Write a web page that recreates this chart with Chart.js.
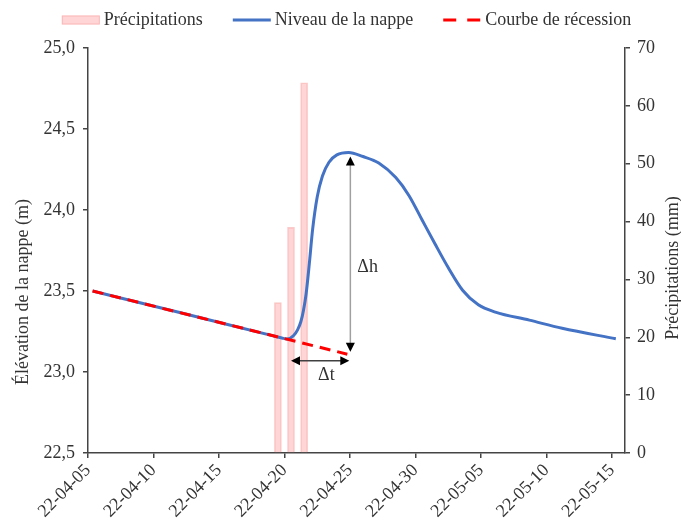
<!DOCTYPE html>
<html>
<head>
<meta charset="utf-8">
<script src="https://cdn.jsdelivr.net/npm/chart.js@4.4.0/dist/chart.umd.min.js"></script>
<style>
  html, body { margin: 0; padding: 0; background: #fff; }
</style>
</head>
<body>
<canvas id="chart" width="681" height="521"></canvas>
<script>
// x values are days counted from 2022-04-05
const tickLabels = ["22-04-05", "22-04-10", "22-04-15", "22-04-20", "22-04-25",
  "22-04-30", "22-05-05", "22-05-10", "22-05-15"];

const rainDays = [14.5, 15.5, 16.5];
const rainValues = [26, 39, 64];

const levelDays = [0.35, 7, 14, 14.8, 15.2, 15.7, 16.0, 16.25, 16.45, 16.65, 16.9,
  17.15, 17.5, 17.9, 18.4, 19.0, 19.9, 21.0, 22.2, 23.5, 24.5, 25.5, 26.5, 27.5,
  28.6, 29.8, 31.1, 33.7, 36.2, 40.3];
const levelValues = [23.5, 23.367, 23.226, 23.21, 23.203, 23.225, 23.26, 23.31,
  23.38, 23.48, 23.67, 23.88, 24.08, 24.21, 24.295, 24.34, 24.355, 24.33, 24.29,
  24.2, 24.09, 23.94, 23.79, 23.645, 23.505, 23.415, 23.37, 23.32, 23.27, 23.205];

const recessionDays = [0.35, 19.8];
const recessionValues = [23.5, 23.11];

const textColor = "#333333";
const axisColor = "#444444";
const serif = "'Liberation Serif', 'Times New Roman', serif";

Chart.defaults.font.family = serif;
Chart.defaults.font.size = 18;
Chart.defaults.color = textColor;

function pairs(xs, ys) {
  return xs.map((x, i) => ({ x: x, y: ys[i] }));
}

// arrows, delta labels, axis titles and legend
const extras = {
  id: "extras",
  afterDatasetsDraw(chart) {
    const ctx = chart.ctx;
    const xs = chart.scales.x;
    const ys = chart.scales.y;

    function head(x, y, dx, dy) {
      const len = 9, half = 4.5;
      const px = -dy, py = dx;
      ctx.beginPath();
      ctx.moveTo(x, y);
      ctx.lineTo(x - dx * len + px * half, y - dy * len + py * half);
      ctx.lineTo(x - dx * len - px * half, y - dy * len - py * half);
      ctx.closePath();
      ctx.fillStyle = "#000";
      ctx.fill();
    }

    ctx.save();
    // delta h
    const hx = xs.getPixelForValue(20.03);
    const hy1 = ys.getPixelForValue(24.33);
    const hy2 = ys.getPixelForValue(23.125);
    ctx.strokeStyle = "#a0a0a0";
    ctx.lineWidth = 1.5;
    ctx.beginPath();
    ctx.moveTo(hx, hy1 + 6);
    ctx.lineTo(hx, hy2 - 6);
    ctx.stroke();
    head(hx, hy1, 0, -1);
    head(hx, hy2, 0, 1);

    // delta t
    const ty = ys.getPixelForValue(23.07);
    const tx1 = xs.getPixelForValue(15.5);
    const tx2 = xs.getPixelForValue(19.95);
    ctx.strokeStyle = "#404040";
    ctx.beginPath();
    ctx.moveTo(tx1 + 6, ty);
    ctx.lineTo(tx2 - 6, ty);
    ctx.stroke();
    head(tx1, ty, -1, 0);
    head(tx2, ty, 1, 0);

    ctx.fillStyle = textColor;
    ctx.font = "18px " + serif;
    ctx.textBaseline = "middle";
    ctx.textAlign = "left";
    ctx.fillText("\u0394h", hx + 7, ys.getPixelForValue(23.648));
    ctx.textAlign = "center";
    ctx.fillText("\u0394t", xs.getPixelForValue(18.2), ys.getPixelForValue(22.98));
    ctx.restore();
  },
  afterDraw(chart) {
    const ctx = chart.ctx;
    ctx.save();
    ctx.fillStyle = textColor;
    ctx.font = "18px " + serif;
    ctx.textAlign = "center";
    ctx.textBaseline = "middle";

    ctx.save();
    ctx.translate(23, 292);
    ctx.rotate(-Math.PI / 2);
    ctx.fillText("\u00c9l\u00e9vation de la nappe (m)", 0, 0);
    ctx.restore();

    ctx.save();
    ctx.translate(673, 268);
    ctx.rotate(-Math.PI / 2);
    ctx.fillText("Pr\u00e9cipitations (mm)", 0, 0);
    ctx.restore();

    // legend
    const sets = chart.data.datasets;
    const symW = 38, gap = 4, between = 30, ly = 20;
    let total = 0;
    sets.forEach((ds, i) => {
      total += symW + gap + ctx.measureText(ds.label).width;
      if (i < sets.length - 1) total += between;
    });
    let x = 346.5 - total / 2;
    ctx.textAlign = "left";
    sets.forEach((ds) => {
      if (ds.type === "bar") {
        ctx.fillStyle = ds.backgroundColor;
        ctx.fillRect(x, ly - 4.5, symW, 9);
        ctx.strokeStyle = ds.borderColor;
        ctx.lineWidth = 1;
        ctx.strokeRect(x + 0.5, ly - 4, symW - 1, 8);
      } else {
        ctx.strokeStyle = ds.borderColor;
        ctx.lineWidth = ds.borderWidth;
        ctx.setLineDash(ds.borderDash ? [13, 11] : []);
        ctx.beginPath();
        ctx.moveTo(x, ly);
        ctx.lineTo(x + symW, ly);
        ctx.stroke();
        ctx.setLineDash([]);
      }
      ctx.fillStyle = textColor;
      ctx.fillText(ds.label, x + symW + gap, ly);
      x += symW + gap + ctx.measureText(ds.label).width + between;
    });
    ctx.restore();
  }
};

new Chart(document.getElementById("chart"), {
  type: "line",
  data: {
    datasets: [
      {
        type: "bar",
        label: "Pr\u00e9cipitations",
        data: pairs(rainDays, rainValues),
        yAxisID: "y1",
        backgroundColor: "rgba(255, 185, 185, 0.6)",
        borderColor: "rgba(245, 160, 160, 0.55)",
        borderWidth: 1,
        barThickness: 7,
        order: 3,
      },
      {
        label: "Niveau de la nappe",
        data: pairs(levelDays, levelValues),
        yAxisID: "y",
        borderColor: "#4472C4",
        borderWidth: 3,
        pointRadius: 0,
        cubicInterpolationMode: "monotone",
        fill: false,
        order: 2,
      },
      {
        label: "Courbe de r\u00e9cession",
        data: pairs(recessionDays, recessionValues),
        yAxisID: "y",
        borderColor: "#FF0000",
        borderWidth: 3,
        borderDash: [11, 7],
        pointRadius: 0,
        fill: false,
        order: 1,
      },
    ],
  },
  options: {
    responsive: false,
    animation: false,
    layout: { padding: { top: 48, left: 0, right: 0, bottom: 0 } },
    plugins: {
      legend: { display: false },
      tooltip: { enabled: false },
    },
    scales: {
      x: {
        type: "linear",
        min: 0,
        max: 41,
        offset: false,
        afterFit: (s) => { s.height = 68; },
        grid: { offset: false, drawOnChartArea: false, tickLength: 5, color: axisColor, lineWidth: 1.5 },
        border: { color: axisColor, width: 1.5 },
        ticks: {
          stepSize: 5,
          includeBounds: false,
          autoSkip: false,
          minRotation: 45,
          maxRotation: 45,
          padding: 2,
          callback: (v) => tickLabels[v / 5],
        },
      },
      y: {
        position: "left",
        min: 22.5,
        max: 25,
        afterFit: (s) => { s.width = 88; },
        grid: { drawOnChartArea: false, tickLength: 5, color: axisColor, lineWidth: 1.5 },
        border: { color: axisColor, width: 1.5 },
        ticks: {
          stepSize: 0.5,
          padding: 8,
          callback: (v) => v.toFixed(1).replace(".", ","),
        },
      },
      y1: {
        position: "right",
        min: 0,
        max: 70,
        afterFit: (s) => { s.width = 56; },
        grid: { drawOnChartArea: false, tickLength: 5, color: axisColor, lineWidth: 1.5 },
        border: { color: axisColor, width: 1.5 },
        ticks: { stepSize: 10, padding: 7 },
      },
    },
  },
  plugins: [extras],
});
</script>
</body>
</html>
